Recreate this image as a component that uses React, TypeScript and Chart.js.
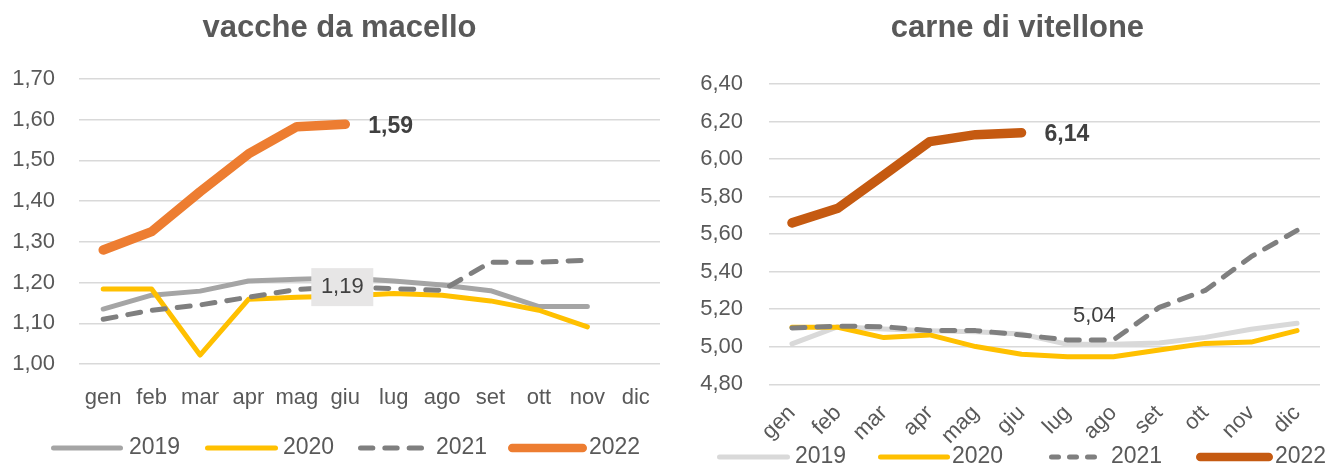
import React, { useEffect, useRef } from 'react';
import { Chart, registerables } from 'chart.js';

Chart.register(...registerables);

const FONT = "'Liberation Sans', Arial, sans-serif";

// ---------- data ----------
const months = ['gen', 'feb', 'mar', 'apr', 'mag', 'giu', 'lug', 'ago', 'set', 'ott', 'nov', 'dic'];
const seriesNames = ['2019', '2020', '2021', '2022'];

const vacche2019 = [1.135, 1.169, 1.179, 1.204, 1.208, 1.211, 1.204, 1.194, 1.18, 1.141, 1.141, null];
const vacche2020 = [1.184, 1.184, 1.022, 1.159, 1.164, 1.167, 1.173, 1.169, 1.155, 1.132, 1.091, null];
const vacche2021 = [1.11, 1.132, 1.145, 1.164, 1.183, 1.19, 1.185, 1.181, 1.25, 1.25, 1.255, null];
const vacche2022 = [1.28, 1.325, 1.423, 1.516, 1.583, 1.589, null, null, null, null, null, null];
const vaccheTicks = [1.0, 1.1, 1.2, 1.3, 1.4, 1.5, 1.6, 1.7];

const vitellone2019 = [5.015, 5.107, 5.095, 5.085, 5.08, 5.068, 5.013, 5.013, 5.02, 5.05, 5.093, 5.125];
const vitellone2020 = [5.104, 5.104, 5.049, 5.063, 5.001, 4.96, 4.947, 4.947, 4.983, 5.018, 5.025, 5.086];
const vitellone2021 = [5.1, 5.11, 5.107, 5.086, 5.086, 5.063, 5.036, 5.036, 5.21, 5.3, 5.48, 5.62];
const vitellone2022 = [5.66, 5.738, 5.915, 6.093, 6.13, 6.14, null, null, null, null, null, null];
const vitelloneTicks = [4.8, 5.0, 5.2, 5.4, 5.6, 5.8, 6.0, 6.2, 6.4];

const fmt = (v: number) => Number(v).toFixed(2).replace('.', ',');

// ---------- plugins ----------
const annotPlugin = {
  id: 'annot',
  afterDatasetsDraw(chart: any, _args: any, opts: any) {
    const ctx = chart.ctx;
    (opts.labels || []).forEach((l: any) => {
      const pt = chart.getDatasetMeta(l.ds).data[l.idx];
      const val = chart.data.datasets[l.ds].data[l.idx];
      if (!pt || val == null) return;
      const text = fmt(val);
      const x = pt.x + l.dx;
      const y = pt.y + l.dy;
      ctx.save();
      if (l.bg) {
        ctx.fillStyle = l.bg;
        ctx.fillRect(x - l.bw / 2, y - l.bh / 2, l.bw, l.bh);
      }
      ctx.font = `${l.bold ? 'bold ' : ''}${l.size}px ${FONT}`;
      ctx.fillStyle = l.color;
      ctx.textAlign = l.align;
      ctx.textBaseline = 'middle';
      ctx.fillText(text, x, y);
      ctx.restore();
    });
  },
};

const legendPlugin = {
  id: 'lineLegend',
  afterDraw(chart: any, _args: any, opts: any) {
    const ctx = chart.ctx;
    const y = opts.y;
    (opts.items || []).forEach((it: any, k: number) => {
      const ds = chart.data.datasets[k];
      ctx.save();
      ctx.strokeStyle = ds.borderColor;
      ctx.lineWidth = it.w;
      ctx.lineCap = 'round';
      if (it.dashed) {
        const g = opts.gap;
        const span = it.x1 - it.x0;
        const dash = (span - 2 * g) / 3;
        ctx.setLineDash([dash - it.w, g + it.w]);
      }
      ctx.beginPath();
      ctx.moveTo(it.x0 + it.w / 2, y);
      ctx.lineTo(it.x1 - it.w / 2, y);
      ctx.stroke();
      ctx.setLineDash([]);
      ctx.font = `${opts.size}px ${FONT}`;
      ctx.fillStyle = '#595959';
      ctx.textAlign = 'left';
      ctx.textBaseline = 'middle';
      ctx.fillText(ds.label, it.tx, y);
      ctx.restore();
    });
  },
};

function makeDatasets(values: any[], colors: string[], widths: number[]) {
  return values.map((v, i) => ({
    label: seriesNames[i],
    data: v,
    borderColor: colors[i],
    backgroundColor: colors[i],
    borderWidth: widths[i],
    borderDash: i === 2 ? [13, 12] : [],
    borderCapStyle: 'round',
    borderJoinStyle: 'round',
    pointRadius: 0,
    pointHoverRadius: 0,
    tension: 0,
    fill: false,
    spanGaps: false,
    order: 3 - i,
  }));
}

function makeConfig(p: any) {
  return {
    type: 'line',
    data: {
      labels: months,
      datasets: makeDatasets(p.values, p.colors, p.widths),
    },
    plugins: [annotPlugin, legendPlugin],
    options: {
      responsive: false,
      animation: false,
      devicePixelRatio: 1,
      layout: { padding: p.padding },
      events: [],
      scales: {
        x: {
          type: 'category',
          offset: true,
          grid: { display: false },
          border: { display: false },
          ticks: {
            autoSkip: false,
            maxRotation: p.rotation,
            minRotation: p.rotation,
            padding: p.xPad,
            color: '#595959',
            font: { size: 22, family: FONT },
          },
          afterFit: (s: any) => { s.height = p.xHeight; },
        },
        y: {
          min: p.ticks[0],
          max: p.ticks[p.ticks.length - 1],
          afterBuildTicks: (s: any) => { s.ticks = p.ticks.map((v: number) => ({ value: v })); },
          grid: { color: '#D9D9D9', lineWidth: 1.5, drawTicks: false },
          border: { display: false },
          ticks: {
            padding: p.yPad,
            color: '#595959',
            font: { size: 22, family: FONT },
            callback: (v: any) => fmt(v),
          },
          afterFit: (s: any) => { s.width = p.yWidth; },
        },
      },
      plugins: {
        legend: { display: false },
        tooltip: { enabled: false },
        title: { display: false },
        annot: { labels: p.labels },
        lineLegend: p.legend,
      },
    },
  };
}

function ChartCanvas({ cfg, left, width }: any) {
  const ref = useRef<HTMLCanvasElement | null>(null);
  useEffect(() => {
    if (!ref.current) return;
    const chart = new Chart(ref.current, makeConfig(cfg) as any);
    return () => chart.destroy();
  }, []);
  return (
    <canvas
      ref={ref}
      width={width}
      height={463}
      style={{ position: 'absolute', left, top: 0, width, height: 463, display: 'block' }}
    />
  );
}

function Title({ text, center }: any) {
  return (
    <div
      style={{
        position: 'absolute',
        left: center - 250,
        width: 500,
        top: 11,
        textAlign: 'center',
        fontFamily: FONT,
        fontWeight: 'bold',
        fontSize: 31,
        lineHeight: '31px',
        color: '#595959',
        whiteSpace: 'nowrap',
      }}
    >
      {text}
    </div>
  );
}

const leftCfg = {
  values: [vacche2019, vacche2020, vacche2021, vacche2022],
  colors: ['#A5A5A5', '#FFC000', '#7F7F7F', '#ED7D31'],
  widths: [5, 5, 5, 9.5],
  ticks: vaccheTicks,
  padding: { left: 0, right: 19, top: 79, bottom: 0 },
  yWidth: 79,
  yPad: 24,
  xHeight: 99,
  xPad: 13,
  rotation: 0,
  labels: [
    { ds: 3, idx: 5, dx: 23, dy: 2, bold: true, size: 23, color: '#404040', align: 'left' },
    { ds: 2, idx: 5, dx: -3, dy: 0.5, bold: false, size: 22, color: '#404040', align: 'center', bg: '#E7E6E6', bw: 62, bh: 38 },
  ],
  legend: {
    y: 448,
    size: 23,
    gap: 7,
    items: [
      { x0: 51, x1: 123, tx: 129, w: 5 },
      { x0: 205, x1: 278, tx: 283, w: 5 },
      { x0: 358, x1: 424, tx: 436, w: 5, dashed: true },
      { x0: 508, x1: 587, tx: 589, w: 8.5 },
    ],
  },
};

const RX = 680;
const rightCfg = {
  values: [vitellone2019, vitellone2020, vitellone2021, vitellone2022],
  colors: ['#D9D9D9', '#FFC000', '#7F7F7F', '#C55A11'],
  widths: [5, 5, 5, 9.5],
  ticks: vitelloneTicks,
  padding: { left: 0, right: 7, top: 84, bottom: 0 },
  yWidth: 89,
  yPad: 26,
  xHeight: 78.7,
  xPad: 8,
  rotation: 45,
  labels: [
    { ds: 3, idx: 5, dx: 23, dy: 1.5, bold: true, size: 23, color: '#404040', align: 'left' },
    { ds: 2, idx: 7, dx: -19, dy: -24, bold: false, size: 22, color: '#404040', align: 'center' },
  ],
  legend: {
    y: 457,
    size: 23,
    gap: 6,
    items: [
      { x0: 717 - RX, x1: 790 - RX, tx: 795 - RX, w: 5 },
      { x0: 878 - RX, x1: 950 - RX, tx: 952 - RX, w: 5 },
      { x0: 1049 - RX, x1: 1097 - RX, tx: 1111 - RX, w: 5, dashed: true },
      { x0: 1196 - RX, x1: 1273 - RX, tx: 1275 - RX, w: 8.5 },
    ],
  },
};

export default function App() {
  return (
    <div style={{ position: 'fixed', left: 0, top: 0, width: 1327, height: 463, background: '#FFFFFF', overflow: 'hidden' }}>
      <ChartCanvas cfg={leftCfg} left={0} width={679} />
      <ChartCanvas cfg={rightCfg} left={RX} width={1327 - RX} />
      <Title text="vacche da macello" center={339.5} />
      <Title text="carne di vitellone" center={1017.5} />
    </div>
  );
}
